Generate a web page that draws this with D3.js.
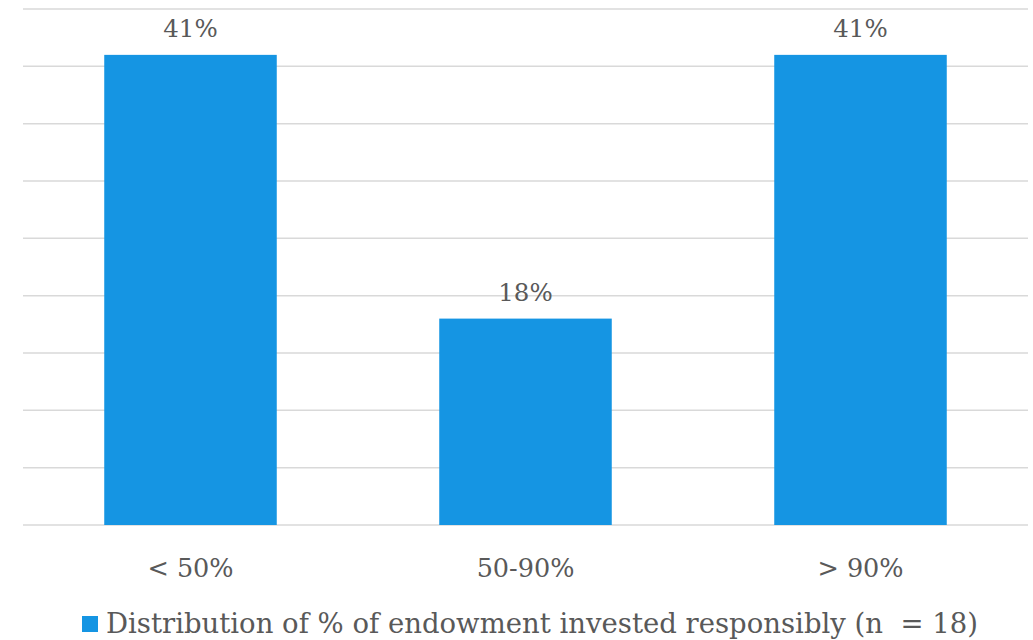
<!DOCTYPE html>
<html>
   <head>
      <meta charset="utf-8" />
      <script src="https://cdn.jsdelivr.net/npm/d3@7/dist/d3.min.js"></script>
      <style>
         body {
            margin: 0px;
            overflow: hidden;
            background: #fff;
         }
         text {
            font-family: "DejaVu Serif", "Liberation Serif", serif;
            fill: #595959;
         }
      </style>
   </head>
   <body>
      <svg width="1033" height="640"></svg>
      <script>
         const categories = ["< 50%", "50-90%", "> 90%"];
         const values = [41, 18, 41];
         const yTicks = [0, 5, 10, 15, 20, 25, 30, 35, 40, 45];
         const seriesName = "Distribution of % of endowment invested responsibly (n  = 18)";

         const svg = d3.select("svg");
         const plotLeft = 23, plotRight = 1028, plotTop = 9, plotBottom = 525;

         const x = d3.scaleBand()
            .domain(categories)
            .range([plotLeft, plotRight])
            .paddingInner(0.485)
            .paddingOuter(0.2425);

         const y = d3.scaleLinear()
            .domain([0, 45])
            .range([plotBottom, plotTop]);

         // gridlines
         svg.append("g")
            .selectAll("line")
            .data(yTicks)
            .enter()
            .append("line")
            .attr("x1", plotLeft)
            .attr("x2", plotRight)
            .attr("y1", (d) => y(d))
            .attr("y2", (d) => y(d))
            .attr("stroke", "#d9d9d9")
            .attr("stroke-width", 1.5);

         // bars
         svg.append("g")
            .selectAll("rect")
            .data(values)
            .enter()
            .append("rect")
            .attr("x", (d, i) => x(categories[i]))
            .attr("width", x.bandwidth())
            .attr("y", (d) => y(d))
            .attr("height", (d) => y(0) - y(d))
            .attr("fill", "#1595e3");

         // value labels
         svg.append("g")
            .selectAll("text")
            .data(values)
            .enter()
            .append("text")
            .attr("x", (d, i) => x(categories[i]) + x.bandwidth() / 2)
            .attr("y", (d) => y(d) - 18)
            .attr("text-anchor", "middle")
            .style("font-size", "24.5px")
            .text((d) => d + "%");

         // category labels
         svg.append("g")
            .selectAll("text")
            .data(categories)
            .enter()
            .append("text")
            .attr("x", (d) => x(d) + x.bandwidth() / 2)
            .attr("y", 577)
            .attr("text-anchor", "middle")
            .style("font-size", "25.5px")
            .text((d) => d);

         // legend
         const legend = svg.append("g");
         legend.append("rect")
            .attr("x", 82)
            .attr("y", 616)
            .attr("width", 16)
            .attr("height", 16)
            .attr("fill", "#1595e3");
         legend.append("text")
            .attr("x", 106)
            .attr("y", 633)
            .style("font-size", "27.5px")
            .style("white-space", "pre")
            .text(seriesName);
      </script>
   </body>
</html>
